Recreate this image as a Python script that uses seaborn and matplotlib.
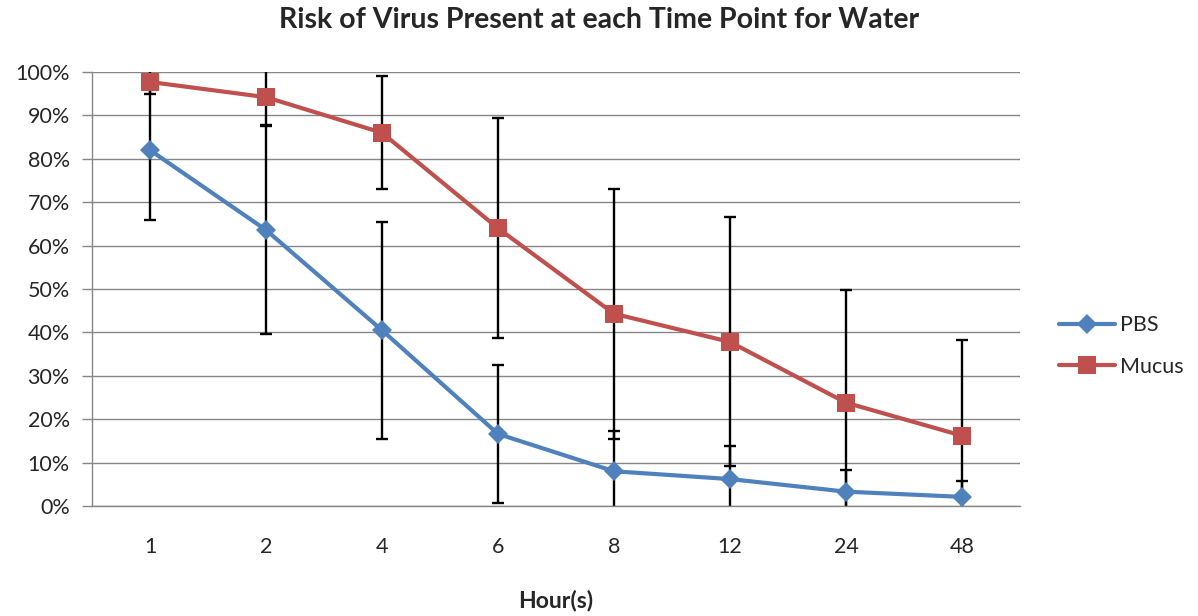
import numpy as np
import pandas as pd
import seaborn as sns
import matplotlib.pyplot as plt
from matplotlib.ticker import PercentFormatter

# Datos
horas = ["1", "2", "4", "6", "8", "12", "24", "48"]
pbs = [82.0, 63.6, 40.5, 16.6, 8.0, 6.2, 3.3, 2.1]
pbs_err = [16.0, 24.0, 25.0, 15.8, 9.3, 7.7, 5.1, 3.6]
mucus = [97.7, 94.2, 86.0, 64.0, 44.3, 37.8, 23.8, 16.2]
mucus_err = [2.7, 6.5, 13.0, 25.3, 28.8, 28.7, 25.9, 22.0]

pos = np.arange(len(horas))
df = pd.DataFrame({
    "pos": np.concatenate([pos, pos]),
    "valor": np.array(pbs + mucus) / 100,
    "serie": ["PBS"] * len(horas) + ["Mucus"] * len(horas),
})

sns.set_style("white")
plt.rcParams["font.family"] = ["Lato", "DejaVu Sans"]

fig = plt.figure(figsize=(11.98, 6.16), dpi=100)
ax = fig.add_axes([0.0768, 0.1786, 0.7746, 0.7045])

colores = {"PBS": "#4F81BD", "Mucus": "#C0504D"}

# Barras de error (debajo de las lineas)
for vals, errs in [(pbs, pbs_err), (mucus, mucus_err)]:
    ax.errorbar(pos, np.array(vals) / 100, yerr=np.array(errs) / 100,
                fmt="none", ecolor="black", elinewidth=1.7, capsize=4,
                capthick=1.7, zorder=2)

sns.lineplot(data=df, x="pos", y="valor", hue="serie", style="serie",
             palette=colores, markers={"PBS": "D", "Mucus": "s"},
             dashes=False, linewidth=3.0, markeredgewidth=0, ax=ax,
             legend=False, zorder=3)
for ln, ms in zip(ax.lines[-2:], [10, 13]):
    ln.set_markersize(ms)

ax.set_xlim(-0.5, len(horas) - 0.5)
ax.set_ylim(0, 1)
ax.set_xticks(pos)
ax.set_xticklabels(horas)
ax.set_xticks(np.arange(-0.5, len(horas)), minor=True)
ax.tick_params(axis="x", which="major", length=0, pad=22, labelsize=15.5)
ax.tick_params(axis="x", which="minor", length=6.5, color="#868686", width=1)
ax.set_yticks(np.linspace(0, 1, 11))
ax.yaxis.set_major_formatter(PercentFormatter(1.0, decimals=0))
ax.tick_params(axis="y", length=7, color="#868686", width=1, labelsize=15.5,
               left=True, pad=9)
ax.grid(axis="y", color="#868686", linewidth=1)
ax.set_axisbelow(True)
for lado in ["top", "right"]:
    ax.spines[lado].set_visible(False)
for lado in ["left", "bottom"]:
    ax.spines[lado].set_color("#868686")
    ax.spines[lado].set_linewidth(1)

ax.set_xlabel("Hour(s)", fontsize=16.5, fontweight="bold", labelpad=24)
ax.set_ylabel("")
fig.suptitle("Risk of Virus Present at each Time Point for Water",
             fontsize=20.5, fontweight="bold", x=0.5, y=0.988)

handles = [plt.Line2D([], [], color=colores["PBS"], marker="D", ms=10,
                      mew=0, lw=3.0),
           plt.Line2D([], [], color=colores["Mucus"], marker="s", ms=13,
                      mew=0, lw=3.0)]
fig.legend(handles, ["PBS", "Mucus"], loc="center left",
           bbox_to_anchor=(0.884, 0.438), frameon=False, fontsize=15.5,
           labelspacing=1.0, handlelength=2.6, handletextpad=0.25,
           borderpad=0, borderaxespad=0)

plt.savefig("out.png", dpi=100)
